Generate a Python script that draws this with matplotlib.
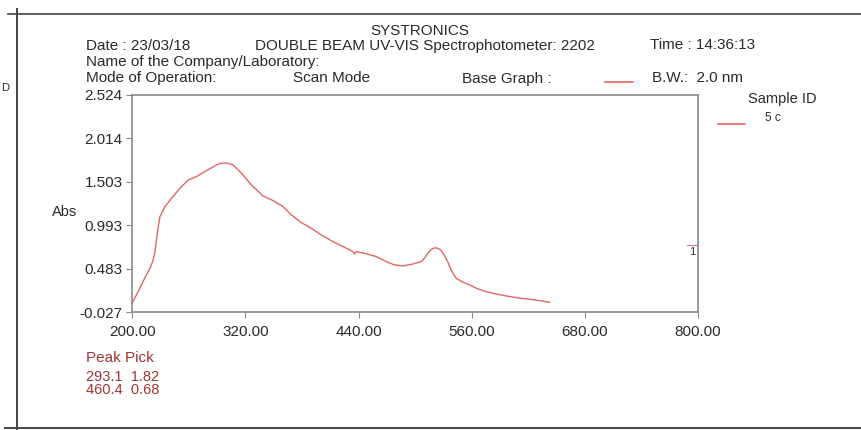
import matplotlib
matplotlib.use("Agg")
import matplotlib.pyplot as plt
from matplotlib.lines import Line2D

plt.rcParams['font.family'] = ['Liberation Sans', 'DejaVu Sans']

wavelength = [200, 204, 208, 213, 218.7, 222, 224, 226.5, 229.3, 234.6, 241.6, 250.5, 259.3,
              268.1, 278.7, 289.3, 293, 298.1, 302, 306.9, 315.8, 326.3, 338.7, 349.3, 359.9,
              368.7, 379.3, 389.9, 400.5, 412.8, 425.2, 434, 435.8, 437.5, 446.3, 458.7, 469.3,
              478.1, 487, 497.5, 506.3, 510, 513.4, 517, 520.5, 524, 527.5, 531, 534.5, 538,
              543.6, 550, 557.7, 566, 575.4, 585, 596.6, 610, 621.3, 632, 642.5]
absorbance = [0.086, 0.17, 0.255, 0.37, 0.49, 0.58, 0.68, 0.90, 1.096, 1.213, 1.311, 1.429,
              1.526, 1.566, 1.636, 1.703, 1.72, 1.726, 1.72, 1.703, 1.605, 1.468, 1.339, 1.284,
              1.213, 1.116, 1.026, 0.959, 0.881, 0.803, 0.736, 0.685, 0.658, 0.685, 0.666,
              0.627, 0.568, 0.529, 0.517, 0.540, 0.568, 0.61, 0.666, 0.71, 0.73, 0.725, 0.70,
              0.64, 0.568, 0.47, 0.372, 0.33, 0.294, 0.25, 0.215, 0.19, 0.165, 0.14, 0.126,
              0.11, 0.09]

x_ticks = [200, 320, 440, 560, 680, 800]
x_tick_labels = ["200.00", "320.00", "440.00", "560.00", "680.00", "800.00"]
y_ticks = [-0.027, 0.483, 0.993, 1.503, 2.014, 2.524]
y_tick_labels = ["-0.027", "0.483", "0.993", "1.503", "2.014", "2.524"]
peaks = ["293.1  1.82", "460.4  0.68"]

W, H = 861, 430
fig = plt.figure(figsize=(W / 100, H / 100), dpi=100)

def fx(px):
    return px / W

def fy(py):
    return 1 - py / H

ax = fig.add_axes([fx(132.3), fy(312.3), fx(698) - fx(132.3), fy(95) - fy(312.3)])
curve_color = '#e06666'
ax.plot(wavelength, absorbance, color=curve_color, lw=1.0)
ax.set_xlim(200, 800)
ax.set_ylim(-0.027, 2.524)
ax.set_xticks(x_ticks)
ax.set_xticklabels(x_tick_labels)
ax.set_yticks(y_ticks)
ax.set_yticklabels(y_tick_labels)
for s in ax.spines.values():
    s.set_color('#8a8a8a')
    s.set_linewidth(1.2)
ax.tick_params(direction='out', length=4, color='#8a8a8a', labelsize=11, labelcolor='#2a2a2a', pad=3)
ax.tick_params(axis='x', pad=5)

FS = 11
txt = dict(fontsize=FS, color='#2a2a2a', va='center')
fig.text(fx(420), fy(31), "SYSTRONICS", ha='center', **txt)
fig.text(fx(86), fy(46), "Date : 23/03/18", ha='left', **txt)
fig.text(fx(255), fy(46), "DOUBLE BEAM UV-VIS Spectrophotometer: 2202", ha='left', **txt)
fig.text(fx(650), fy(45), "Time : 14:36:13", ha='left', **txt)
fig.text(fx(86), fy(62), "Name of the Company/Laboratory:", ha='left', **txt)
fig.text(fx(86), fy(78), "Mode of Operation:", ha='left', **txt)
fig.text(fx(293), fy(78), "Scan Mode", ha='left', **txt)
fig.text(fx(462), fy(79), "Base Graph :", ha='left', **txt)
fig.text(fx(652), fy(78), "B.W.:  2.0 nm", ha='left', **txt)
fig.text(fx(748), fy(99), "Sample ID", ha='left', fontsize=10.5, color='#2a2a2a', va='center')
fig.text(fx(765), fy(118), "5 c", ha='left', fontsize=8.5, color='#2a2a2a', va='center')
fig.text(fx(52), fy(212), "Abs", ha='left', fontsize=10.5, color='#2a2a2a', va='center')
fig.text(fx(1), fy(88), "D", ha='left', fontsize=8, color='#2a2a2a', va='center')
fig.text(fx(692), fy(252), "1", ha='center', fontsize=8, color='#333333', va='center')

fig.add_artist(Line2D([fx(605), fx(633)], [fy(82), fy(82)], color=curve_color, lw=1.2))
fig.add_artist(Line2D([fx(718), fx(745)], [fy(124), fy(124)], color=curve_color, lw=1.2))
fig.add_artist(Line2D([fx(687), fx(697)], [fy(245), fy(245)], color='#c08080', lw=0.8))

peak_color = '#a03535'
fig.text(fx(86), fy(358), "Peak Pick", ha='left', fontsize=11, color=peak_color, va='center')
for i, p in enumerate(peaks):
    fig.text(fx(86), fy(377 + 13 * i), p, ha='left', fontsize=10.5, color=peak_color, va='center')

# page frame lines
fig.add_artist(Line2D([fx(8), fx(861)], [fy(14), fy(14)], color='#444444', lw=1.2))
fig.add_artist(Line2D([fx(17), fx(17)], [fy(9), fy(430)], color='#444444', lw=1.4))
fig.add_artist(Line2D([fx(5), fx(861)], [fy(428), fy(428)], color='#444444', lw=1.4))

fig.savefig("out.png", dpi=100)
